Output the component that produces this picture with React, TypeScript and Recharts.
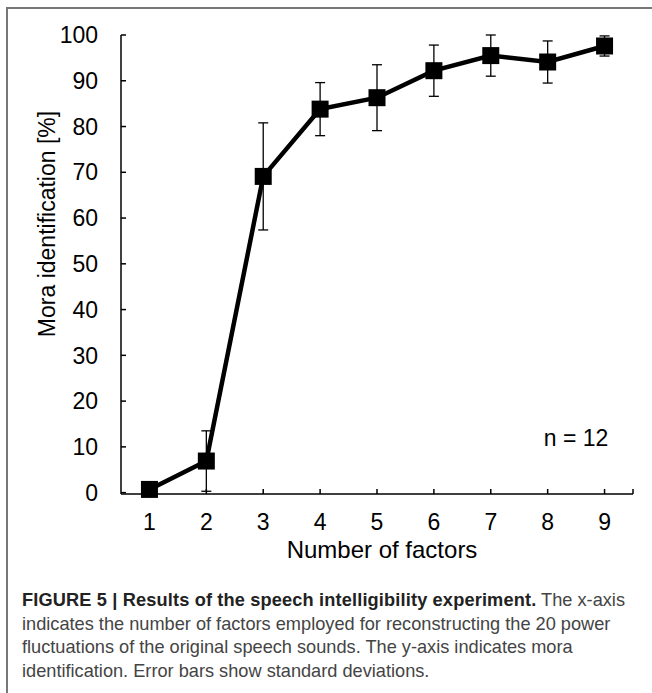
import React from 'react';
import { LineChart, Line, XAxis, YAxis, ErrorBar } from 'recharts';

const factors = [1, 2, 3, 4, 5, 6, 7, 8, 9];
const identification = [0.7, 6.9, 69.1, 83.8, 86.3, 92.2, 95.5, 94.1, 97.6];
const stdDev = [1.0, 6.6, 11.7, 5.8, 7.2, 5.6, 4.5, 4.6, 2.2];
const yTicks = [0, 10, 20, 30, 40, 50, 60, 70, 80, 90, 100];
const xTicks = [1, 2, 3, 4, 5, 6, 7, 8, 9];
const xAxisEnd = 9.5;

const yLabel = 'Mora identification [%]';
const xLabel = 'Number of factors';
const nNote = 'n = 12';
const captionBold = 'FIGURE 5 | Results of the speech intelligibility experiment.';
const captionLines = [
  ' The x-axis',
  'indicates the number of factors employed for reconstructing the 20 power',
  'fluctuations of the original speech sounds. The y-axis indicates mora',
  'identification. Error bars show standard deviations.',
];

const data = factors.map((f, i) => ({ factor: f, value: identification[i], sd: stdDev[i] }));

const FONT = '"Liberation Sans", Arial, Helvetica, sans-serif';

const SquareDot = (props: any) => {
  const { cx, cy } = props;
  if (cx == null || cy == null) return null;
  const s = 17;
  return <rect x={cx - s / 2} y={cy - s / 2} width={s} height={s} fill="#000" />;
};

export default function App() {
  return (
    <div style={{ position: 'relative', width: 652, height: 693, background: '#fff', fontFamily: FONT, overflow: 'hidden' }}>
      <style>{`body{margin:0;}`}</style>
      <div style={{ position: 'absolute', left: 6, top: 7, width: 646, height: 2, background: '#777' }} />
      <div style={{ position: 'absolute', left: 6, top: 7, width: 2, height: 686, background: '#777' }} />
      <div style={{ position: 'absolute', left: 0, top: 0 }}>
        <LineChart width={652} height={560} data={data} margin={{ top: 35, right: 19, bottom: 26, left: 61 }}>
          <XAxis
            dataKey="factor"
            type="number"
            domain={[0.5, xAxisEnd]}
            ticks={[...xTicks, xAxisEnd]}
            interval={0}
            tickFormatter={(v: number) => (xTicks.includes(v) ? String(v) : '')}
            axisLine={{ stroke: '#000', strokeWidth: 1.5 }}
            tickLine={{ stroke: '#000', strokeWidth: 1.5 }}
            tickSize={-5}
            tickMargin={25}
            height={40}
            tick={{ fill: '#000', fontSize: 23, fontFamily: FONT }}
          />
          <YAxis
            type="number"
            domain={[0, 100]}
            ticks={yTicks}
            interval={0}
            width={60}
            axisLine={{ stroke: '#000', strokeWidth: 1.5 }}
            tickLine={{ stroke: '#000', strokeWidth: 1.5 }}
            tickSize={-5}
            tickMargin={28}
            tick={{ fill: '#000', fontSize: 23, fontFamily: FONT }}
          />
          <Line
            type="linear"
            dataKey="value"
            stroke="#000"
            strokeWidth={4.5}
            dot={<SquareDot />}
            activeDot={false}
            isAnimationActive={false}
          >
            <ErrorBar dataKey="sd" direction="y" width={5} stroke="#000" strokeWidth={1.3} isAnimationActive={false} />
          </Line>
        </LineChart>
      </div>
      <div
        style={{
          position: 'absolute', left: 47, top: 224, transform: 'translate(-50%, -50%) rotate(-90deg)',
          fontSize: 23, lineHeight: '23px', whiteSpace: 'nowrap', color: '#000',
        }}
      >
        {yLabel}
      </div>
      <div
        style={{
          position: 'absolute', left: 382, top: 550, transform: 'translate(-50%, -50%)',
          fontSize: 24, lineHeight: '24px', whiteSpace: 'nowrap', color: '#000',
        }}
      >
        {xLabel}
      </div>
      <div
        style={{
          position: 'absolute', left: 576, top: 438, transform: 'translate(-50%, -50%)',
          fontSize: 23, lineHeight: '23px', whiteSpace: 'nowrap', color: '#000',
        }}
      >
        {nNote}
      </div>
      <div
        style={{
          position: 'absolute', left: 22, top: 589, fontSize: 18.2, lineHeight: '23.5px',
          color: '#444', whiteSpace: 'pre',
        }}
      >
        <div>
          <span style={{ fontWeight: 'bold', color: '#222', letterSpacing: 0.15 }}>{captionBold}</span>
          {captionLines[0]}
        </div>
        <div>{captionLines[1]}</div>
        <div>{captionLines[2]}</div>
        <div>{captionLines[3]}</div>
      </div>
    </div>
  );
}
